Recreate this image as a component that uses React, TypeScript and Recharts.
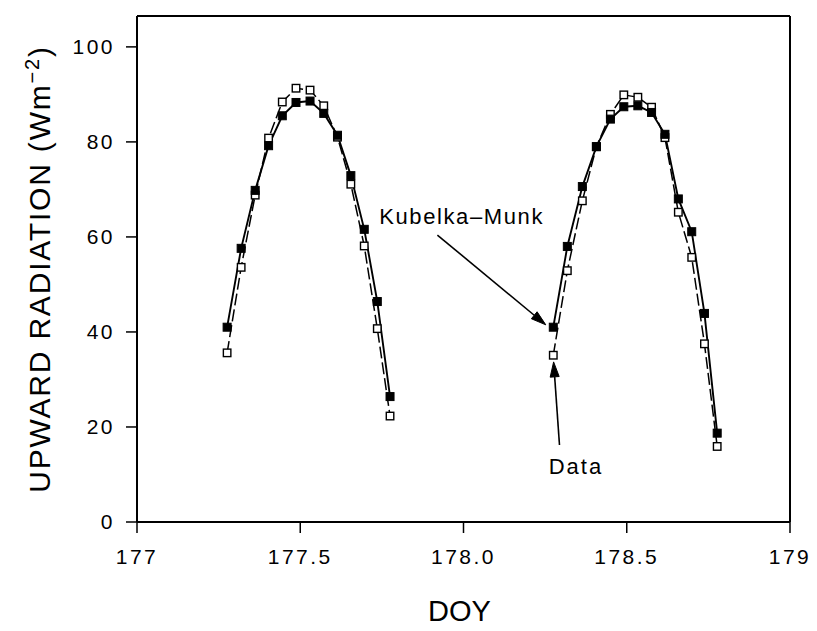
import React from 'react';
import { LineChart, Line, XAxis, YAxis, ReferenceLine, ReferenceDot, Label } from 'recharts';

const doyDay1 = [177.276, 177.319, 177.362, 177.403, 177.445, 177.487, 177.530, 177.572, 177.614, 177.655, 177.696, 177.736, 177.775];
const doyDay2 = [178.275, 178.318, 178.364, 178.407, 178.450, 178.491, 178.534, 178.576, 178.617, 178.658, 178.699, 178.738, 178.777];
const kubelkaMunkDay1 = [41.0, 57.6, 69.8, 79.2, 85.5, 88.3, 88.6, 86.0, 81.4, 72.9, 61.6, 46.4, 26.4];
const kubelkaMunkDay2 = [41.0, 58.0, 70.6, 79.0, 84.8, 87.4, 87.6, 86.2, 81.6, 68.0, 61.1, 43.9, 18.7];
const dataDay1 = [35.6, 53.6, 68.8, 80.8, 88.4, 91.3, 90.9, 87.6, 81.0, 71.1, 58.1, 40.7, 22.3];
const dataDay2 = [35.1, 52.9, 67.6, 79.0, 85.8, 89.9, 89.4, 87.3, 80.9, 65.2, 55.7, 37.5, 15.9];

const xTicks = [177, 177.5, 178, 178.5, 179];
const xTickLabels = ['177', '177.5', '178.0', '178.5', '179'];
const yTicks = [0, 20, 40, 60, 80, 100];

const table: { doy: number; km: number | null; obs: number | null }[] = [
  ...doyDay1.map((d, i) => ({ doy: d, km: kubelkaMunkDay1[i], obs: dataDay1[i] })),
  { doy: 178.03, km: null, obs: null },
  ...doyDay2.map((d, i) => ({ doy: d, km: kubelkaMunkDay2[i], obs: dataDay2[i] })),
];

const FONT = '"Liberation Sans", Arial, Helvetica, sans-serif';

const filledSquare = (props: any) => {
  const { cx, cy, index, value } = props;
  if (value == null || cy == null || isNaN(cy)) return <g key={`kf-${index}`} />;
  return <rect key={`kf-${index}`} x={cx - 4} y={cy - 4} width={8} height={8} fill="#000" stroke="#000" strokeWidth={1} />;
};

const openSquare = (props: any) => {
  const { cx, cy, index, value } = props;
  if (value == null || cy == null || isNaN(cy)) return <g key={`os-${index}`} />;
  return <rect key={`os-${index}`} x={cx - 3.75} y={cy - 3.75} width={7.5} height={7.5} fill="#fff" stroke="#000" strokeWidth={1.4} />;
};

const arrowShape = (p: any) => {
  const { x1, y1, x2, y2 } = p;
  if (x1 == null || x2 == null) return <g />;
  const dx = x2 - x1;
  const dy = y2 - y1;
  const len = Math.sqrt(dx * dx + dy * dy) || 1;
  const ux = dx / len;
  const uy = dy / len;
  const hl = 15;
  const hw = 4.5;
  const bx = x2 - ux * hl;
  const by = y2 - uy * hl;
  const pts = `${x2},${y2} ${bx - uy * hw},${by + ux * hw} ${bx + uy * hw},${by - ux * hw}`;
  return (
    <g>
      <line x1={x1} y1={y1} x2={bx} y2={by} stroke="#000" strokeWidth={1.6} />
      <polygon points={pts} fill="#000" stroke="#000" strokeWidth={1} />
    </g>
  );
};

const textAt = (txt: string, ls: number) => (p: any) => (
  <text x={p.cx} y={p.cy} fontFamily={FONT} fontSize={22} letterSpacing={ls} fill="#000" textAnchor="start">
    {txt}
  </text>
);

const yLabel = (props: any) => {
  const vb = props.viewBox || { x: 0, y: 16, width: 137, height: 506 };
  const cy = vb.y + vb.height / 2;
  return (
    <text
      transform={`translate(50, ${cy}) rotate(-90)`}
      textAnchor="middle"
      fontFamily={FONT}
      fontSize={30}
      letterSpacing={1.8}
      fill="#000"
    >
      UPWARD RADIATION (Wm
      <tspan fontSize={20} dy={-11}>−2</tspan>
      <tspan dy={11}>)</tspan>
    </text>
  );
};

const xLabel = (props: any) => {
  const vb = props.viewBox || { x: 137, y: 522, width: 653, height: 109 };
  return (
    <text x={vb.x + vb.width / 2 - 4} y={vb.y + 99} textAnchor="middle" fontFamily={FONT} fontSize={29} fill="#000">
      DOY
    </text>
  );
};

const tickStyle = { fontSize: 21, fill: '#000', fontFamily: FONT, letterSpacing: 2.5 };

export default function App() {
  return (
    <div style={{ position: 'absolute', left: 0, top: 0, width: 817, height: 631, background: '#fff' }}>
      <LineChart width={817} height={631} data={table} margin={{ top: 0, right: 0, bottom: 0, left: 0 }}>
        <XAxis
          xAxisId="bottom"
          dataKey="doy"
          type="number"
          domain={[177, 179]}
          ticks={xTicks}
          tickFormatter={(v: number) => xTickLabels[xTicks.indexOf(v)] ?? String(v)}
          orientation="bottom"
          height={109}
          tickSize={11}
          tickMargin={16}
          tick={tickStyle}
          axisLine={{ stroke: '#000', strokeWidth: 2.2 }}
          tickLine={{ stroke: '#000', strokeWidth: 1.5 }}
          allowDataOverflow
        >
          <Label content={xLabel} />
        </XAxis>
        <XAxis
          xAxisId="top"
          dataKey="doy"
          type="number"
          domain={[177, 179]}
          ticks={xTicks}
          orientation="top"
          height={16}
          tickSize={11}
          tick={false}
          axisLine={{ stroke: '#000', strokeWidth: 2 }}
          tickLine={{ stroke: '#000', strokeWidth: 1.5 }}
          allowDataOverflow
        />
        <YAxis
          yAxisId="left"
          type="number"
          domain={[0, 106.5]}
          ticks={yTicks}
          orientation="left"
          width={137}
          tickSize={11}
          tickMargin={11}
          tick={tickStyle}
          axisLine={{ stroke: '#000', strokeWidth: 2 }}
          tickLine={{ stroke: '#000', strokeWidth: 1.5 }}
          allowDataOverflow
        >
          <Label content={yLabel} />
        </YAxis>
        <YAxis
          yAxisId="right"
          type="number"
          domain={[0, 106.5]}
          ticks={yTicks}
          orientation="right"
          width={27}
          tickSize={11}
          tick={false}
          axisLine={{ stroke: '#000', strokeWidth: 2 }}
          tickLine={{ stroke: '#000', strokeWidth: 1.5 }}
          allowDataOverflow
        />
        <Line
          xAxisId="bottom"
          yAxisId="left"
          dataKey="obs"
          stroke="#000"
          strokeWidth={1.5}
          strokeDasharray="12 4"
          dot={openSquare}
          activeDot={false}
          connectNulls={false}
          isAnimationActive={false}
          type="linear"
        />
        <Line
          xAxisId="bottom"
          yAxisId="left"
          dataKey="km"
          stroke="#000"
          strokeWidth={1.9}
          dot={filledSquare}
          activeDot={false}
          connectNulls={false}
          isAnimationActive={false}
          type="linear"
        />
        <ReferenceLine
          xAxisId="bottom"
          yAxisId="left"
          segment={[{ x: 177.92, y: 60.4 }, { x: 178.252, y: 41.5 }]}
          shape={arrowShape}
          ifOverflow="visible"
        />
        <ReferenceLine
          xAxisId="bottom"
          yAxisId="left"
          segment={[{ x: 178.294, y: 16.2 }, { x: 178.276, y: 33.7 }]}
          shape={arrowShape}
          ifOverflow="visible"
        />
        <ReferenceDot
          xAxisId="bottom"
          yAxisId="left"
          x={177.742}
          y={62.74}
          r={0}
          shape={textAt('Kubelka–Munk', 1.6)}
          ifOverflow="visible"
        />
        <ReferenceDot
          xAxisId="bottom"
          yAxisId="left"
          x={178.261}
          y={10.1}
          r={0}
          shape={textAt('Data', 2)}
          ifOverflow="visible"
        />
      </LineChart>
    </div>
  );
}
